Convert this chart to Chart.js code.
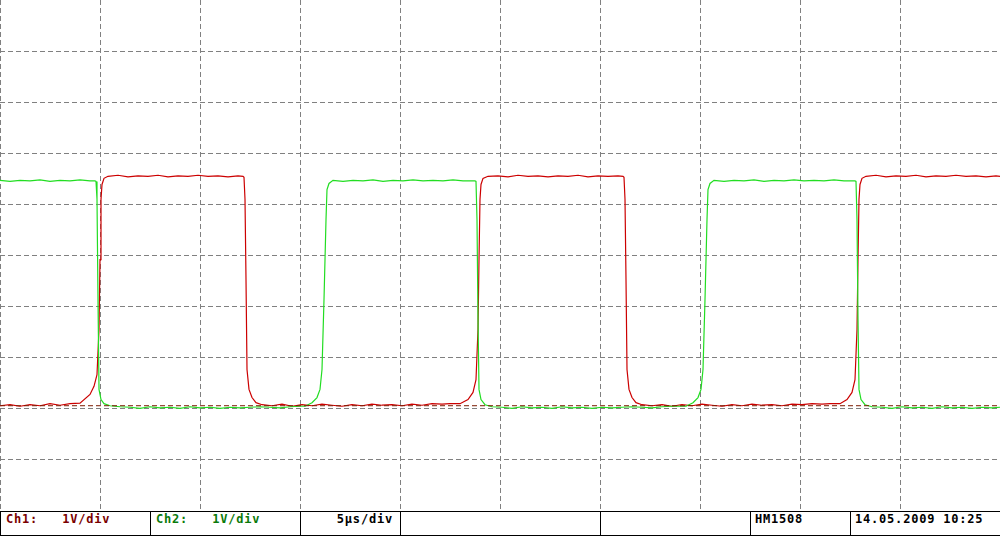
<!DOCTYPE html>
<html>
<head>
<meta charset="utf-8">
<script src="https://cdn.jsdelivr.net/npm/chart.js@4.4.1/dist/chart.umd.min.js"></script>
<style>
  body { margin: 0; background: #fff; }
  #wrap { position: relative; width: 1000px; height: 536px; overflow: hidden; }
  #plot { position: absolute; left: 0; top: 0; width: 1000px; height: 511px; }
  #bar { position: absolute; left: 0; top: 511px; width: 999px; height: 23px; border: 1px solid #000; }
  .cell { position: absolute; top: 0; height: 23px; line-height: 23px; border-right: 1px solid #000;
          font: bold 12px "DejaVu Sans Mono", monospace; letter-spacing: 0.8px; white-space: pre; box-sizing: border-box; }
</style>
</head>
<body>
<div id="wrap">
  <div id="plot"><canvas id="myChart"></canvas></div>
  <div id="bar">
    <div class="cell" style="left:0;width:150px;padding-left:5px;color:#7a0000">Ch1:   1V/div</div>
    <div class="cell" style="left:150px;width:150px;padding-left:5px;color:#0a7a0a">Ch2:   1V/div</div>
    <div class="cell" style="left:300px;width:100px;text-align:right;padding-right:7px;color:#000">5µs/div</div>
    <div class="cell" style="left:400px;width:200px"></div>
    <div class="cell" style="left:600px;width:150px"></div>
    <div class="cell" style="left:750px;width:100px;padding-left:4px;color:#000">HM1508</div>
    <div class="cell" style="left:850px;width:149px;padding-left:4px;color:#000;border-right:none">14.05.2009 10:25</div>
  </div>
</div>
<script>
// tempo em µs (5 µs/div), tensão em V (1 V/div)
var ch1Tempo = [0, 0.5, 1.0, 1.5, 2.0, 2.5, 3.0, 3.5, 4.0,
  4.5, 4.7, 4.85, 4.95, 5.0, 5.05, 5.1, 5.2, 5.4,
  5.9, 6.4, 6.9, 7.4, 7.9, 8.4, 8.9, 9.4, 9.9, 10.4, 10.9, 11.4, 11.9, 12.15,
  12.2, 12.25, 12.3, 12.35, 12.45, 12.6, 12.8, 13.1,
  13.6, 14.1, 14.6, 15.1, 15.6, 16.1, 16.6, 17.1, 17.6, 18.1, 18.6, 19.1, 19.6, 20.1, 20.6, 21.1, 21.6, 22.1, 22.5,
  23.0, 23.4, 23.65, 23.8, 23.9, 23.95, 24.0, 24.05, 24.15, 24.4,
  24.9, 25.4, 25.9, 26.4, 26.9, 27.4, 27.9, 28.4, 28.9, 29.4, 29.9, 30.4, 30.9, 31.15,
  31.2, 31.25, 31.3, 31.35, 31.45, 31.6, 31.8, 32.1,
  32.6, 33.1, 33.6, 34.1, 34.6, 35.1, 35.6, 36.1, 36.6, 37.1, 37.6, 38.1, 38.6, 39.1, 39.6, 40.1, 40.6, 41.1, 41.5,
  42.0, 42.35, 42.6, 42.75, 42.85, 42.9, 42.95, 43.0, 43.1, 43.3,
  43.8, 44.3, 44.8, 45.3, 45.8, 46.3, 46.8, 47.3, 47.8, 48.3, 48.8, 49.3, 49.8, 50];
var ch1Volts = [-2.94, -2.92, -2.95, -2.92, -2.94, -2.90, -2.93, -2.90, -2.89,
  -2.72, -2.56, -2.33, -1.45, -0.08, 1.10, 1.39, 1.51, 1.55,
  1.57, 1.54, 1.56, 1.55, 1.57, 1.54, 1.56, 1.55, 1.57, 1.55, 1.56, 1.54, 1.56, 1.55,
  1.53, 1.10, -0.47, -2.23, -2.62, -2.78, -2.88, -2.92,
  -2.94, -2.91, -2.95, -2.92, -2.94, -2.91, -2.93, -2.95, -2.92, -2.94, -2.91, -2.93, -2.92, -2.94, -2.91, -2.93, -2.90, -2.91, -2.90,
  -2.90, -2.82, -2.68, -2.43, -1.45, -0.08, 1.10, 1.39, 1.51, 1.55,
  1.56, 1.54, 1.57, 1.55, 1.56, 1.54, 1.56, 1.55, 1.57, 1.54, 1.56, 1.55, 1.56, 1.55,
  1.53, 1.10, -0.47, -2.23, -2.62, -2.78, -2.88, -2.92,
  -2.94, -2.92, -2.95, -2.92, -2.94, -2.91, -2.93, -2.95, -2.92, -2.94, -2.91, -2.93, -2.92, -2.94, -2.91, -2.92, -2.90, -2.91, -2.90,
  -2.90, -2.82, -2.68, -2.43, -1.45, -0.08, 1.10, 1.39, 1.51, 1.55,
  1.57, 1.54, 1.56, 1.55, 1.57, 1.54, 1.56, 1.55, 1.57, 1.55, 1.56, 1.54, 1.56, 1.55];

var ch2Tempo = [0, 0.5, 1.0, 1.5, 2.0, 2.5, 3.0, 3.5, 4.0, 4.5, 4.75,
  4.8, 4.85, 4.9, 4.95, 5.05, 5.2, 5.5, 6.0,
  6.5, 7.0, 7.5, 8.0, 8.5, 9.0, 9.5, 10.0, 10.5, 11.0, 11.5, 12.0, 12.5, 13.0, 13.5, 14.0, 14.5, 15.0, 15.25,
  15.6, 15.85, 16.0, 16.1, 16.2, 16.3, 16.35, 16.45, 16.65,
  17.15, 17.65, 18.15, 18.65, 19.15, 19.65, 20.15, 20.65, 21.15, 21.65, 22.15, 22.65, 23.15, 23.75,
  23.8, 23.85, 23.9, 23.95, 24.05, 24.25, 24.6,
  25.1, 25.6, 26.1, 26.6, 27.1, 27.6, 28.1, 28.6, 29.1, 29.6, 30.1, 30.6, 31.1, 31.6, 32.1, 32.6, 33.1, 33.6, 34.3,
  34.65, 34.9, 35.05, 35.15, 35.25, 35.35, 35.4, 35.5, 35.7,
  36.2, 36.7, 37.2, 37.7, 38.2, 38.7, 39.2, 39.7, 40.2, 40.7, 41.2, 41.7, 42.2, 42.75,
  42.8, 42.85, 42.9, 42.95, 43.05, 43.25, 43.6,
  44.1, 44.6, 45.1, 45.6, 46.1, 46.6, 47.1, 47.6, 48.1, 48.6, 49.1, 49.6, 50];
var ch2Volts = [1.47, 1.45, 1.47, 1.46, 1.48, 1.45, 1.47, 1.46, 1.48, 1.46, 1.46,
  1.45, 1.10, -0.86, -2.62, -2.82, -2.90, -2.94, -2.96,
  -2.97, -2.99, -2.96, -2.98, -2.97, -2.99, -2.96, -2.98, -2.97, -2.99, -2.97, -2.98, -2.97, -2.96, -2.97, -2.98, -2.96, -2.95, -2.95,
  -2.88, -2.78, -2.62, -2.23, -0.86, 0.70, 1.29, 1.41, 1.47,
  1.45, 1.47, 1.46, 1.48, 1.45, 1.47, 1.46, 1.48, 1.46, 1.47, 1.46, 1.48, 1.46, 1.46,
  1.45, 0.70, -1.25, -2.62, -2.82, -2.92, -2.96,
  -2.97, -2.99, -2.96, -2.98, -2.97, -2.99, -2.96, -2.98, -2.97, -2.99, -2.97, -2.98, -2.97, -2.96, -2.97, -2.98, -2.96, -2.95, -2.95,
  -2.88, -2.78, -2.62, -2.23, -0.86, 0.70, 1.29, 1.41, 1.47,
  1.45, 1.47, 1.46, 1.48, 1.45, 1.47, 1.46, 1.48, 1.46, 1.47, 1.46, 1.48, 1.46, 1.46,
  1.45, 0.70, -1.25, -2.62, -2.82, -2.92, -2.96,
  -2.97, -2.99, -2.96, -2.98, -2.97, -2.99, -2.96, -2.98, -2.97, -2.99, -2.97, -2.98, -2.97];

// marcador de referência (terra) do Ch1
var refTempo = [0, 50];
var refVolts = [-2.94, -2.94];

var divTempo = 5;   // µs/div
var divVolts = 1;   // V/div

function pontos(xs, ys) {
    var p = [];
    for (var i = 0; i < xs.length; i++) p.push({ x: xs[i], y: ys[i] });
    return p;
}

var ctx = document.getElementById('myChart');
window.myChart = new Chart(ctx, {
    type: 'line',
    data: {
        datasets: [{
            label: 'Ref Ch1',
            data: pontos(refTempo, refVolts),
            borderColor: '#7a1a00',
            borderWidth: 1,
            borderDash: [5, 3],
            pointRadius: 0
        }, {
            label: 'Ch2',
            data: pontos(ch2Tempo, ch2Volts),
            borderColor: '#22dd22',
            borderWidth: 1.2,
            pointRadius: 0,
            tension: 0
        }, {
            label: 'Ch1',
            data: pontos(ch1Tempo, ch1Volts),
            borderColor: '#cc0000',
            borderWidth: 1.2,
            pointRadius: 0,
            tension: 0
        }]
    },
    options: {
        responsive: true,
        maintainAspectRatio: false,
        animation: false,
        layout: { padding: 0 },
        plugins: { legend: { display: false }, tooltip: { enabled: false } },
        scales: {
            x: {
                type: 'linear',
                min: 0,
                max: 10 * divTempo,
                border: { display: false, dash: [5, 3] },
                ticks: { display: false, stepSize: divTempo },
                grid: {
                    drawTicks: false,
                    color: function (c) { return c.tick && c.tick.value >= 10 * divTempo ? 'rgba(0,0,0,0)' : '#808080'; }
                }
            },
            y: {
                min: -5 * divVolts,
                max: 5 * divVolts,
                border: { display: false, dash: [5, 3] },
                ticks: { display: false, stepSize: divVolts },
                grid: {
                    drawTicks: false,
                    color: function (c) {
                        if (!c.tick) return '#808080';
                        return (c.tick.value <= -5 || c.tick.value >= 5) ? 'rgba(0,0,0,0)' : '#808080';
                    }
                }
            }
        }
    }
});
</script>
</body>
</html>
